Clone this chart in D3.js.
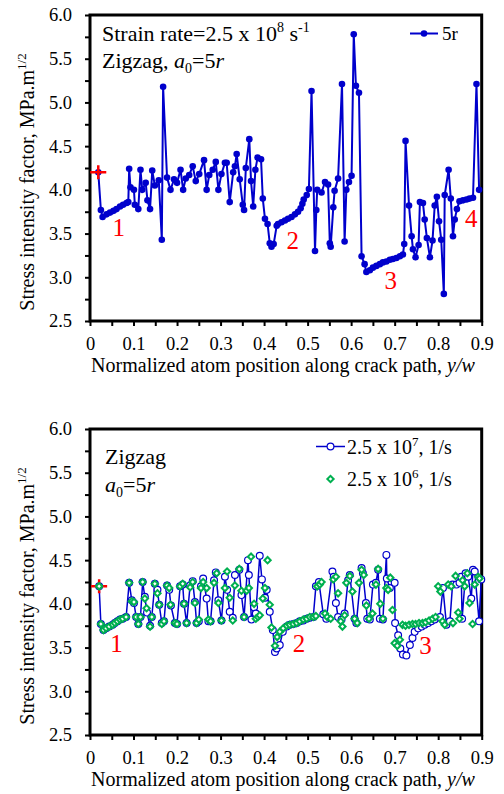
<!DOCTYPE html>
<html>
<head>
<meta charset="utf-8">
<script src="https://cdn.jsdelivr.net/npm/d3@7"></script>
<style>
  body { margin: 0; background: #fff; }
  svg text { font-family: "Liberation Serif", "Times New Roman", serif; fill: #000; }
</style>
</head>
<body>
<svg id="fig" width="504" height="794"></svg>
<script>
// Axis ticks
const xMajor = [0, 0.1, 0.2, 0.3, 0.4, 0.5, 0.6, 0.7, 0.8, 0.9];
const xMajorLabels = ["0", "0.1", "0.2", "0.3", "0.4", "0.5", "0.6", "0.7", "0.8", "0.9"];
const xMinor = [0.05, 0.15, 0.25, 0.35, 0.45, 0.55, 0.65, 0.75, 0.85];
const yMajor = [2.5, 3.0, 3.5, 4.0, 4.5, 5.0, 5.5, 6.0];
const yMajorLabels = ["2.5", "3.0", "3.5", "4.0", "4.5", "5.0", "5.5", "6.0"];
const yMinor = [2.75, 3.25, 3.75, 4.25, 4.75, 5.25, 5.75];

// Upper panel: strain rate 2.5e8 1/s, a0 = 5r
const pos5r = [0.019,0.025,0.029,0.038,0.046,0.054,0.061,0.069,0.076,0.084,
  0.088,0.090,0.093,0.101,0.103,0.111,0.116,0.120,0.128,0.132,
  0.138,0.143,0.149,0.158,0.165,0.168,0.177,0.185,0.193,0.200,
  0.208,0.214,0.220,0.228,0.236,0.243,0.251,0.262,0.268,0.274,
  0.282,0.289,0.295,0.302,0.310,0.314,0.321,0.329,0.333,0.337,
  0.344,0.351,0.354,0.358,0.366,0.370,0.375,0.380,0.385,0.393,
  0.397,0.402,0.408,0.413,0.417,0.422,0.429,0.432,0.440,0.448,
  0.455,0.463,0.471,0.478,0.484,0.488,0.491,0.498,0.503,0.509,
  0.517,0.520,0.522,0.532,0.540,0.547,0.551,0.553,0.559,0.562,
  0.570,0.579,0.585,0.589,0.595,0.601,0.606,0.611,0.618,0.624,
  0.631,0.635,0.643,0.650,0.658,0.666,0.673,0.681,0.689,0.696,
  0.704,0.712,0.719,0.722,0.725,0.733,0.739,0.742,0.748,0.755,
  0.758,0.765,0.769,0.774,0.781,0.787,0.792,0.797,0.802,0.807,
  0.813,0.815,0.824,0.829,0.834,0.838,0.843,0.849,0.857,0.865,
  0.872,0.880,0.888,0.894];
const sif5r = [4.20,3.77,3.69,3.72,3.74,3.76,3.78,3.81,3.83,3.85,
  3.86,4.24,4.03,4.00,3.83,3.78,4.23,4.00,4.08,3.88,
  3.78,4.22,4.05,4.11,3.43,5.18,4.14,4.00,4.12,4.08,
  4.23,4.00,4.13,4.17,4.27,4.10,4.18,4.34,4.00,4.17,
  4.23,4.32,4.00,4.18,4.31,4.31,3.86,4.20,4.27,4.41,
  4.12,3.83,3.77,4.25,4.58,4.10,3.81,4.23,4.37,4.35,
  3.90,3.67,3.61,3.39,3.35,3.38,3.59,3.61,3.63,3.65,
  3.67,3.69,3.72,3.75,3.79,3.84,3.89,3.94,4.01,5.13,
  3.30,3.77,4.00,3.97,4.09,4.06,3.39,3.35,3.80,3.99,
  4.13,5.21,3.41,4.00,4.09,4.16,5.78,5.19,5.11,3.24,
  3.15,3.06,3.08,3.11,3.13,3.15,3.17,3.18,3.20,3.21,
  3.22,3.24,3.26,3.38,4.56,3.82,3.47,3.32,3.23,3.37,
  3.86,3.85,3.66,3.45,3.23,3.42,3.82,3.92,3.64,3.43,
  2.81,3.94,4.23,3.90,3.47,3.66,3.78,3.87,3.88,3.89,
  3.90,3.91,5.21,4.00];

// Lower panel: strain rate 2.5e7 1/s
const pos25e7 = [0.021,0.025,0.031,0.037,0.044,0.052,0.057,0.063,0.069,0.075,
  0.083,0.090,0.096,0.101,0.106,0.111,0.116,0.121,0.126,0.131,
  0.138,0.142,0.149,0.155,0.159,0.165,0.170,0.177,0.182,0.186,
  0.195,0.200,0.207,0.213,0.216,0.222,0.230,0.236,0.241,0.245,
  0.250,0.255,0.260,0.268,0.272,0.277,0.285,0.289,0.295,0.302,
  0.310,0.315,0.321,0.328,0.333,0.343,0.348,0.354,0.363,0.365,
  0.371,0.377,0.381,0.390,0.395,0.402,0.406,0.413,0.420,0.425,
  0.429,0.436,0.443,0.452,0.459,0.467,0.475,0.482,0.490,0.498,
  0.505,0.513,0.519,0.526,0.536,0.543,0.557,0.560,0.565,0.570,
  0.578,0.585,0.593,0.597,0.608,0.612,0.624,0.627,0.634,0.637,
  0.643,0.650,0.657,0.662,0.666,0.673,0.681,0.682,0.689,0.700,
  0.701,0.708,0.713,0.719,0.727,0.735,0.741,0.746,0.754,0.762,
  0.769,0.777,0.784,0.792,0.804,0.811,0.819,0.827,0.833,0.842,
  0.849,0.853,0.855,0.863,0.869,0.876,0.880,0.884,0.894,0.899];
const sif25e7 = [4.20,3.77,3.70,3.72,3.74,3.76,3.78,3.80,3.82,3.83,
  3.85,4.24,4.04,4.01,3.85,3.77,3.85,4.25,4.08,3.90,
  3.75,3.85,4.23,4.16,3.99,3.78,3.80,4.21,4.16,3.98,
  3.78,3.77,4.20,4.22,4.00,3.78,4.21,4.26,4.02,3.78,
  3.80,4.20,4.29,4.06,3.80,3.80,4.27,4.36,4.04,3.81,
  4.31,4.16,3.91,3.84,4.33,4.39,4.10,3.85,4.50,4.33,
  3.82,3.96,3.89,4.55,4.28,4.07,4.16,3.91,3.70,3.45,
  3.49,3.53,3.68,3.74,3.76,3.77,3.78,3.80,3.81,3.83,
  3.84,3.85,4.20,4.25,3.88,3.83,4.37,4.31,4.01,3.85,
  3.82,3.89,4.27,4.33,3.83,3.78,4.41,4.35,4.01,3.83,
  3.82,4.22,4.24,4.39,3.83,3.82,4.56,4.29,4.18,4.24,
  3.78,3.64,3.49,3.42,3.41,3.53,3.61,3.68,3.72,3.74,
  3.76,3.78,3.80,3.82,3.85,4.18,3.76,3.80,4.22,4.22,
  4.24,4.31,3.83,4.35,4.31,4.06,4.39,4.37,3.80,4.28];

// Lower panel: strain rate 2.5e6 1/s
const pos25e6 = [0.021,0.025,0.031,0.037,0.044,0.052,0.057,0.063,0.069,0.075,
  0.083,0.090,0.096,0.101,0.106,0.111,0.116,0.121,0.126,0.130,
  0.138,0.142,0.149,0.155,0.159,0.165,0.170,0.177,0.182,0.185,
  0.195,0.200,0.207,0.213,0.216,0.222,0.230,0.236,0.241,0.245,
  0.250,0.255,0.260,0.268,0.272,0.277,0.285,0.291,0.295,0.302,
  0.310,0.315,0.321,0.328,0.333,0.343,0.348,0.354,0.360,0.365,
  0.370,0.377,0.381,0.386,0.390,0.397,0.402,0.408,0.413,0.417,
  0.425,0.430,0.436,0.444,0.452,0.459,0.467,0.475,0.482,0.490,
  0.498,0.505,0.513,0.519,0.522,0.528,0.532,0.540,0.545,0.553,
  0.559,0.565,0.570,0.576,0.580,0.585,0.589,0.597,0.603,0.608,
  0.614,0.618,0.624,0.629,0.635,0.641,0.649,0.657,0.662,0.667,
  0.673,0.681,0.685,0.690,0.695,0.700,0.706,0.712,0.718,0.725,
  0.733,0.741,0.748,0.756,0.764,0.771,0.779,0.787,0.794,0.800,
  0.805,0.810,0.815,0.823,0.830,0.834,0.840,0.846,0.849,0.856,
  0.861,0.867,0.872,0.879,0.884,0.892,0.895];
const sif25e6 = [4.20,3.77,3.70,3.72,3.74,3.76,3.78,3.80,3.82,3.83,
  3.85,4.24,4.03,4.02,3.85,3.77,3.85,4.25,4.06,3.95,
  3.74,3.85,4.23,4.12,3.99,3.77,3.80,4.21,4.18,3.99,
  3.78,3.77,4.20,4.23,4.00,3.78,4.19,4.25,4.01,3.78,
  3.82,4.18,4.25,4.18,3.82,3.80,4.24,4.35,4.01,3.81,
  4.18,4.37,4.07,3.81,4.21,4.40,4.15,3.85,4.15,4.18,
  4.54,4.00,3.83,3.85,3.87,4.06,4.18,4.50,3.99,3.73,
  3.52,3.62,3.68,3.72,3.75,3.76,3.77,3.78,3.80,3.82,
  3.83,3.85,3.85,3.86,4.20,4.22,4.25,3.89,3.85,3.83,
  4.28,4.31,4.12,3.80,3.74,3.87,4.24,4.32,4.14,3.83,
  3.78,4.24,4.39,4.33,3.98,3.83,3.89,4.22,4.40,4.00,
  3.83,4.18,4.16,4.30,3.93,3.55,3.52,3.59,3.76,3.75,
  3.76,3.77,3.77,3.78,3.78,3.79,3.81,3.83,3.85,4.20,
  4.14,3.80,3.76,4.22,4.20,3.78,4.32,3.90,3.83,4.27,
  4.20,4.35,4.01,3.77,4.22,4.31,4.29];

// Crack-tip start marker (red cross) and crack-segment labels
const tipPosUpper = 0.019, tipPosLower = 0.021, tipSif = 4.20;
const segLabelsUpper = ["1", "2", "3", "4"];
const segPosUpper = [0.066, 0.466, 0.691, 0.876];
const segSifUpper = [3.47, 3.32, 2.87, 3.58];
const segLabelsLower = ["1", "2", "3"];
const segPosLower = [0.061, 0.480, 0.771];
const segSifLower = [3.45, 3.45, 3.43];

const BLUE = "#0000cc", GREEN = "#00b050", RED = "#ff0000";
const svg = d3.select("#fig");
const X0 = 90, X1 = 481.7;

function panel(top, bottom) {
  const x = d3.scaleLinear().domain([0, 0.9]).range([X0, X1]);
  const y = d3.scaleLinear().domain([2.5, 6.0]).range([bottom, top]);
  const g = svg.append("g");

  // ticks and tick labels
  const ax = g.append("g").attr("transform", `translate(0,${bottom})`)
    .call(d3.axisBottom(x).tickValues(xMajor).tickSize(5).tickPadding(11)
      .tickFormat((d, i) => xMajorLabels[i]));
  const axm = g.append("g").attr("transform", `translate(0,${bottom})`)
    .call(d3.axisBottom(x).tickValues(xMinor).tickSize(5).tickFormat(""));
  const ay = g.append("g").attr("transform", `translate(${X0},0)`)
    .call(d3.axisLeft(y).tickValues(yMajor).tickSize(5).tickPadding(13)
      .tickFormat((d, i) => yMajorLabels[i]));
  const aym = g.append("g").attr("transform", `translate(${X0},0)`)
    .call(d3.axisLeft(y).tickValues(yMinor).tickSize(5).tickFormat(""));
  [ax, axm, ay, aym].forEach(a => {
    a.select(".domain").remove();
    a.selectAll("line").attr("stroke", "#000").attr("stroke-width", 2);
    a.selectAll("text").attr("font-size", 18.5)
      .style("font-family", '"Liberation Serif","Times New Roman",serif').attr("fill", "#000");
  });

  // frame
  g.append("rect").attr("x", X0).attr("y", top).attr("width", X1 - X0).attr("height", bottom - top)
    .attr("fill", "none").attr("stroke", "#000").attr("stroke-width", 3);

  // axis titles
  const xt = g.append("text").attr("x", 283).attr("y", bottom + 51)
    .attr("text-anchor", "middle").attr("font-size", 20);
  xt.append("tspan").text("Normalized atom position along crack path, ");
  xt.append("tspan").attr("font-style", "italic").text("y/w");

  const yt = g.append("text")
    .attr("transform", `translate(34,${top + 167}) rotate(-90)`)
    .attr("text-anchor", "middle").attr("font-size", 20);
  yt.append("tspan").text("Stress intensity factor, MPa.m");
  yt.append("tspan").attr("font-size", 13).attr("dy", -8).text("1/2");

  return { g, x, y };
}

function crossPath(cx, cy) {
  return `M${cx - 8},${cy}H${cx + 8}M${cx},${cy - 7}V${cy + 7}`;
}

// ---------- Upper panel ----------
{
  const { g, x, y } = panel(15, 321);
  const pts = pos5r.map((p, i) => [p, sif5r[i]]);
  g.append("path").datum(pts)
    .attr("d", d3.line().x(d => x(d[0])).y(d => y(d[1])))
    .attr("fill", "none").attr("stroke", BLUE).attr("stroke-width", 2);
  g.append("g").selectAll("circle").data(pts).join("circle")
    .attr("cx", d => x(d[0])).attr("cy", d => y(d[1])).attr("r", 3.3).attr("fill", BLUE);

  g.append("path").attr("d", crossPath(x(tipPosUpper), y(tipSif)))
    .attr("stroke", RED).attr("stroke-width", 2.5).attr("fill", "none");

  g.append("g").selectAll("text").data(segLabelsUpper).join("text")
    .attr("x", (d, i) => x(segPosUpper[i])).attr("y", (d, i) => y(segSifUpper[i]))
    .attr("text-anchor", "middle").attr("font-size", 25).style("fill", RED).text(d => d);

  // annotation
  const t1 = g.append("text").attr("x", 102).attr("y", 40.5).attr("font-size", 22);
  t1.append("tspan").text("Strain rate=2.5 x 10");
  t1.append("tspan").attr("font-size", 14).attr("dy", -9).text("8");
  t1.append("tspan").attr("dy", 9).text(" s");
  t1.append("tspan").attr("font-size", 14).attr("dy", -9).text("-1");
  const t2 = g.append("text").attr("x", 102).attr("y", 68).attr("font-size", 22);
  t2.append("tspan").text("Zigzag, ");
  t2.append("tspan").attr("font-style", "italic").text("a");
  t2.append("tspan").attr("font-size", 14).attr("dy", 5).text("0");
  t2.append("tspan").attr("dy", -5).text("=5");
  t2.append("tspan").attr("font-style", "italic").text("r");

  // legend
  g.append("line").attr("x1", 410).attr("x2", 438).attr("y1", 33.5).attr("y2", 33.5)
    .attr("stroke", BLUE).attr("stroke-width", 2);
  g.append("circle").attr("cx", 424).attr("cy", 33.5).attr("r", 3.3).attr("fill", BLUE);
  g.append("text").attr("x", 442).attr("y", 40).attr("font-size", 19).text("5r");
}

// ---------- Lower panel ----------
{
  const { g, x, y } = panel(429, 735);
  const ptsB = pos25e7.map((p, i) => [p, sif25e7[i]]);
  const ptsG = pos25e6.map((p, i) => [p, sif25e6[i]]);

  g.append("path").datum(ptsB)
    .attr("d", d3.line().x(d => x(d[0])).y(d => y(d[1])))
    .attr("fill", "none").attr("stroke", BLUE).attr("stroke-width", 1.5);
  g.append("g").selectAll("circle").data(ptsB).join("circle")
    .attr("cx", d => x(d[0])).attr("cy", d => y(d[1])).attr("r", 3.4)
    .attr("fill", "#fff").attr("stroke", BLUE).attr("stroke-width", 1.2);

  const diamond = d3.symbol().type(d3.symbolSquare).size(20);
  g.append("g").selectAll("path").data(ptsG).join("path")
    .attr("d", diamond)
    .attr("transform", d => `translate(${x(d[0])},${y(d[1])}) rotate(45)`)
    .attr("fill", "#fff").attr("stroke", GREEN).attr("stroke-width", 2);

  g.append("path").attr("d", crossPath(x(tipPosLower), y(tipSif)))
    .attr("stroke", RED).attr("stroke-width", 2.5).attr("fill", "none");
  // keep the start diamond visible above the cross
  g.append("path").attr("d", diamond)
    .attr("transform", `translate(${x(pos25e6[0])},${y(sif25e6[0])}) rotate(45)`)
    .attr("fill", "#fff").attr("stroke", GREEN).attr("stroke-width", 2);

  g.append("g").selectAll("text").data(segLabelsLower).join("text")
    .attr("x", (d, i) => x(segPosLower[i])).attr("y", (d, i) => y(segSifLower[i]))
    .attr("text-anchor", "middle").attr("font-size", 25).style("fill", RED).text(d => d);

  // annotation
  g.append("text").attr("x", 105).attr("y", 464).attr("font-size", 22).text("Zigzag");
  const t2 = g.append("text").attr("x", 105).attr("y", 492).attr("font-size", 22);
  t2.append("tspan").attr("font-style", "italic").text("a");
  t2.append("tspan").attr("font-size", 14).attr("dy", 5).text("0");
  t2.append("tspan").attr("dy", -5).text("=5");
  t2.append("tspan").attr("font-style", "italic").text("r");

  // legend
  g.append("line").attr("x1", 316).attr("x2", 345).attr("y1", 446.5).attr("y2", 446.5)
    .attr("stroke", BLUE).attr("stroke-width", 1.5);
  g.append("circle").attr("cx", 330.5).attr("cy", 446.5).attr("r", 3.4)
    .attr("fill", "#fff").attr("stroke", BLUE).attr("stroke-width", 1.2);
  const l1 = g.append("text").attr("x", 347).attr("y", 453.5).attr("font-size", 20);
  l1.append("tspan").text("2.5 x 10");
  l1.append("tspan").attr("font-size", 13).attr("dy", -8).text("7");
  l1.append("tspan").attr("dy", 8).text(", 1/s");

  g.append("path").attr("d", diamond).attr("transform", "translate(330.5,479) rotate(45)")
    .attr("fill", "#fff").attr("stroke", GREEN).attr("stroke-width", 2);
  const l2 = g.append("text").attr("x", 347).attr("y", 486).attr("font-size", 20);
  l2.append("tspan").text("2.5 x 10");
  l2.append("tspan").attr("font-size", 13).attr("dy", -8).text("6");
  l2.append("tspan").attr("dy", 8).text(", 1/s");
}
</script>
</body>
</html>
